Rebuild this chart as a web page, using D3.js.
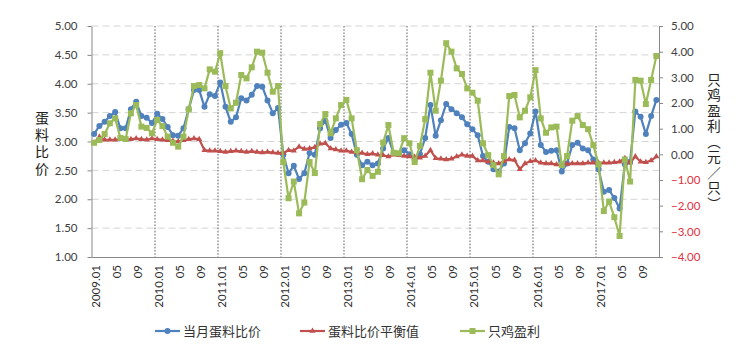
<!DOCTYPE html>
<html>
<head>
<meta charset="utf-8">
<script src="https://cdn.jsdelivr.net/npm/d3@7"></script>
<style>
  body { margin: 0; background: #fff; }
  svg text { font-family: Lato, "Liberation Sans", "Noto Sans CJK SC", sans-serif; }
</style>
</head>
<body>
<svg id="canvas" width="747" height="353"></svg>
<script>
// categories: monthly 2009.01 .. 2017.12
var years = [2009, 2010, 2011, 2012, 2013, 2014, 2015, 2016, 2017];
var months = ['01', '02', '03', '04', '05', '06', '07', '08', '09', '10', '11', '12'];

// 当月蛋料比价 (left axis)
var eggFeedRatio = [
  3.13, 3.27, 3.34, 3.44, 3.51, 3.23, 3.23, 3.56, 3.69, 3.44, 3.41, 3.32,
  3.48, 3.39, 3.25, 3.11, 3.10, 3.23, 3.56, 3.89, 3.89, 3.60, 3.82, 3.79,
  4.02, 3.60, 3.34, 3.42, 3.75, 3.71, 3.81, 3.96, 3.95, 3.71, 3.49, 3.58,
  2.77, 2.45, 2.58, 2.35, 2.45, 2.80, 2.77, 3.23, 3.36, 3.06, 3.20, 3.29,
  3.32, 3.13, 2.77, 2.59, 2.65, 2.59, 2.62, 2.88, 3.06, 2.80, 2.78, 2.85,
  2.78, 2.68, 2.78, 3.06, 3.63, 3.10, 3.37, 3.65, 3.56, 3.49, 3.42, 3.30,
  3.21, 3.11, 2.75, 2.65, 2.52, 2.48, 2.62, 3.25, 3.23, 2.85, 2.97, 3.14,
  3.52, 2.94, 2.82, 2.84, 2.85, 2.48, 2.62, 2.94, 2.98, 2.88, 2.85, 2.69,
  2.52, 2.13, 2.16, 2.02, 1.84, 2.60, 2.65, 3.52, 3.43, 3.13, 3.44, 3.72
];

// 蛋料比价平衡值 (left axis)
var breakEven = [
  2.98, 3.08, 3.03, 3.03, 3.03, 3.04, 3.03, 3.04, 3.05, 3.04, 3.03, 3.05,
  3.04, 3.03, 3.02, 3.01, 3.00, 3.02, 3.04, 3.05, 3.04, 2.85, 2.84, 2.84,
  2.83, 2.82, 2.83, 2.84, 2.83, 2.82, 2.83, 2.82, 2.81, 2.82, 2.81, 2.80,
  2.80, 2.85, 2.84, 2.91, 2.87, 2.88, 2.90, 2.96, 2.97, 2.88, 2.86, 2.84,
  2.84, 2.82, 2.81, 2.80, 2.78, 2.79, 2.77, 2.76, 2.74, 2.77, 2.76, 2.75,
  2.74, 2.73, 2.72, 2.75, 2.85, 2.71, 2.70, 2.69, 2.70, 2.74, 2.77, 2.75,
  2.75, 2.67, 2.67, 2.65, 2.63, 2.62, 2.66, 2.69, 2.68, 2.52, 2.62, 2.66,
  2.67, 2.63, 2.62, 2.62, 2.60, 2.59, 2.61, 2.62, 2.62, 2.62, 2.63, 2.63,
  2.63, 2.63, 2.63, 2.64, 2.65, 2.71, 2.63, 2.74, 2.65, 2.64, 2.67, 2.74
];

// 只鸡盈利 (right axis, 元/只)
var profitPerHen = [
  0.45, 0.56, 0.79, 1.21, 1.40, 0.64, 0.60, 1.60, 1.92, 1.08, 1.03, 0.82,
  1.34, 1.10, 0.69, 0.45, 0.30, 0.69, 1.75, 2.66, 2.70, 2.57, 3.31, 3.22,
  3.94, 2.66, 1.79, 2.01, 3.09, 2.96, 3.39, 4.00, 3.96, 3.18, 2.44, 2.66,
  -0.30, -1.71, -1.06, -2.30, -1.88, -0.30, -0.73, 1.18, 1.57, 0.82, 1.40, 1.92,
  2.12, 1.40, 0.16, -0.97, -0.61, -0.84, -0.68, 0.46, 1.14, 0.06, 0.04, 0.63,
  0.43, -0.30, 0.33, 1.37, 3.18, 1.70, 2.87, 4.33, 4.00, 3.35, 3.13, 2.57,
  2.40, 2.09, 0.43, -0.03, -0.42, -0.78, -0.07, 2.27, 2.31, 1.44, 1.70, 2.22,
  3.28, 1.40, 0.84, 1.05, 1.08, -0.42, -0.07, 1.31, 1.49, 1.14, 0.98, 0.36,
  -0.39, -2.21, -1.84, -2.45, -3.18, -0.20, -1.06, 2.90, 2.87, 1.96, 2.90, 3.83
];

var leftTicks = [1.0, 1.5, 2.0, 2.5, 3.0, 3.5, 4.0, 4.5, 5.0];
var rightTicks = [-4, -3, -2, -1, 0, 1, 2, 3, 4, 5];
var seriesNames = ['当月蛋料比价', '蛋料比价平衡值', '只鸡盈利'];
var leftTitle = '蛋料比价';
var rightTitle = '只鸡盈利（元／只）';

var categories = [];
years.forEach(function (y) {
  months.forEach(function (m) { categories.push(y + '.' + m); });
});

var svg = d3.select('#canvas');
var margin = { left: 91.5, top: 26, right: 88, bottom: 96 };
var width = 747, height = 353;
var innerWidth = width - margin.left - margin.right;
var innerHeight = height - margin.top - margin.bottom;

var x = d3.scaleBand().domain(categories).range([0, innerWidth]).padding(0);
var yL = d3.scaleLinear().domain([1, 5]).range([innerHeight, 0]);
var yR = d3.scaleLinear().domain([-4, 5]).range([innerHeight, 0]);
var cx = function (i) { return x(categories[i]) + x.bandwidth() / 2; };

var g = svg.append('g').attr('transform', 'translate(' + margin.left + ',' + margin.top + ')');

// horizontal dashed gridlines from the left axis
g.append('g').selectAll('line')
  .data(leftTicks.slice(1))
  .enter().append('line')
  .attr('x1', 0).attr('x2', innerWidth)
  .attr('y1', d => yL(d)).attr('y2', d => yL(d))
  .attr('stroke', '#d4d4d4').attr('stroke-width', 1).attr('stroke-dasharray', '7,4');

// vertical dotted lines at year boundaries
g.append('g').selectAll('line')
  .data(years.slice(1))
  .enter().append('line')
  .attr('x1', d => Math.round(x(d + '.01')) + 0.5).attr('x2', d => Math.round(x(d + '.01')) + 0.5)
  .attr('y1', 0).attr('y2', innerHeight)
  .attr('stroke', '#9a9a9a').attr('stroke-width', 1.6).attr('stroke-dasharray', '1.6,1.6');

// left axis
var leftAxis = g.append('g')
  .call(d3.axisLeft(yL).tickValues(leftTicks).tickFormat(d3.format('.2f')).tickSize(4).tickSizeOuter(0));
leftAxis.select('.domain').attr('stroke', '#888');
leftAxis.selectAll('.tick line').attr('stroke', '#888');
leftAxis.selectAll('.tick text').attr('x', -14).style('font-size', '11.5px').attr('fill', '#404040');

// right axis
var rightAxis = g.append('g')
  .attr('transform', 'translate(' + innerWidth + ',0)')
  .call(d3.axisRight(yR).tickValues(rightTicks).tickFormat(d3.format('.2f')).tickSize(4).tickSizeOuter(0));
rightAxis.select('.domain').attr('stroke', '#888');
rightAxis.selectAll('.tick line').attr('stroke', '#888');
rightAxis.selectAll('.tick text').attr('x', 12).style('font-size', '11.5px')
  .attr('fill', d => d < 0 ? '#e0323c' : '#404040');

// bottom axis line
g.append('line')
  .attr('x1', 0).attr('x2', innerWidth)
  .attr('y1', innerHeight + 0.5).attr('y2', innerHeight + 0.5)
  .attr('stroke', '#888');

// category labels: 2009.01, 05, 09 ...
g.append('g').selectAll('text')
  .data(categories.filter(function (c, i) { return i % 4 === 0; }))
  .enter().append('text')
  .attr('transform', d => 'translate(' + (x(d) + x.bandwidth() / 2 + 2) + ',' + (innerHeight + 8) + ') rotate(-90)')
  .attr('text-anchor', 'end')
  .attr('dy', '0.35em')
  .style('font-size', '11.5px')
  .attr('fill', '#303030')
  .text(d => d.slice(5) === '01' ? d : d.slice(5));

var colors = ['#4f81bd', '#c0504d', '#9bbb59'];

var lineL = d3.line().x((d, i) => cx(i)).y(d => yL(d));
var lineR = d3.line().x((d, i) => cx(i)).y(d => yR(d));

function marker(sel, kind, color, s) {
  if (kind === 'circle') {
    sel.append('circle').attr('r', s).attr('fill', color);
  } else if (kind === 'triangle') {
    sel.append('path').attr('d', d3.symbol().type(d3.symbolTriangle).size(s)).attr('fill', color);
  } else {
    sel.append('rect').attr('x', -s / 2).attr('y', -s / 2).attr('width', s).attr('height', s).attr('fill', color);
  }
}

function drawSeries(data, line, yScale, color, kind, s) {
  var sg = g.append('g');
  sg.append('path').attr('d', line(data)).attr('fill', 'none')
    .attr('stroke', color).attr('stroke-width', 2.2).attr('stroke-linejoin', 'round');
  sg.selectAll('g.pt').data(data).enter().append('g')
    .attr('class', 'pt')
    .attr('transform', (d, i) => 'translate(' + cx(i) + ',' + yScale(d) + ')')
    .each(function () { marker(d3.select(this), kind, color, s); });
}

drawSeries(eggFeedRatio, lineL, yL, colors[0], 'circle', 3);
drawSeries(breakEven, lineL, yL, colors[1], 'triangle', 16);
drawSeries(profitPerHen, lineR, yR, colors[2], 'square', 6);

// axis titles written vertically
svg.append('text')
  .attr('x', 42).attr('y', 111)
  .style('writing-mode', 'vertical-rl')
  .style('letter-spacing', '3px')
  .style('font-size', '14px').style('font-family', '"Noto Sans CJK SC"')
  .attr('fill', '#222')
  .text(leftTitle);

svg.append('text')
  .attr('x', 714).attr('y', 73)
  .style('writing-mode', 'vertical-rl')
  .style('letter-spacing', '2px')
  .style('font-size', '13.5px').style('font-family', '"Noto Sans CJK SC"')
  .attr('fill', '#222')
  .text(rightTitle);

// legend
var legendX = [155, 300, 460];
var legendKinds = [['circle', 3], ['triangle', 16], ['square', 6]];
var legend = svg.append('g').selectAll('g')
  .data(seriesNames)
  .enter().append('g')
  .attr('transform', (d, i) => 'translate(' + legendX[i] + ',331)');
legend.append('line').attr('x1', 0).attr('x2', 25).attr('y1', 0).attr('y2', 0)
  .attr('stroke', (d, i) => colors[i]).attr('stroke-width', 2.2);
legend.each(function (d, i) {
  var m = d3.select(this).append('g').attr('transform', 'translate(12.5,0)');
  marker(m, legendKinds[i][0], colors[i], legendKinds[i][1]);
});
legend.append('text')
  .attr('x', 28).attr('dy', '0.36em')
  .style('font-size', '13px').style('font-family', '"Noto Sans CJK SC"')
  .attr('fill', '#333')
  .text(d => d);
</script>
</body>
</html>
